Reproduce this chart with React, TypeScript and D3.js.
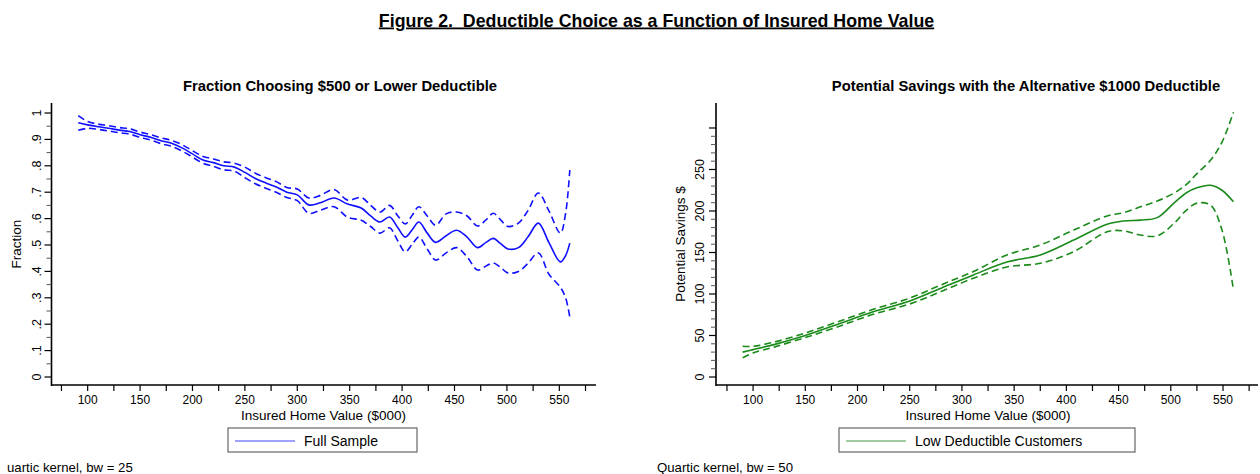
import * as d3 from "d3";

const FONT = "'Liberation Sans', Arial, sans-serif";

// x values (insured home value, $000) for the fraction panel
const fracX = [91, 100, 110, 120, 130, 140, 150, 160, 170, 180, 190, 200, 210, 220, 230, 240, 250, 260, 270, 280, 290, 300, 311, 322, 335, 348, 361, 370, 379, 388, 396, 403, 410, 416, 424, 432, 442, 452, 462, 472, 480, 487, 494, 501, 511, 520, 530, 540, 551, 556, 560];
const fracFit = [0.963, 0.955, 0.948, 0.942, 0.935, 0.93, 0.918, 0.908, 0.895, 0.885, 0.868, 0.845, 0.822, 0.812, 0.8, 0.795, 0.775, 0.752, 0.735, 0.72, 0.7, 0.69, 0.652, 0.66, 0.678, 0.655, 0.64, 0.61, 0.587, 0.606, 0.565, 0.53, 0.56, 0.587, 0.545, 0.51, 0.535, 0.556, 0.53, 0.49, 0.51, 0.525, 0.505, 0.485, 0.49, 0.53, 0.583, 0.51, 0.436, 0.46, 0.507];
const fracHi = [0.99, 0.968, 0.958, 0.952, 0.945, 0.94, 0.928, 0.918, 0.906, 0.896, 0.88, 0.857, 0.835, 0.826, 0.815, 0.81, 0.795, 0.772, 0.755, 0.74, 0.718, 0.712, 0.678, 0.688, 0.71, 0.67, 0.68, 0.65, 0.625, 0.65, 0.61, 0.58, 0.615, 0.645, 0.61, 0.575, 0.618, 0.625, 0.61, 0.572, 0.595, 0.62, 0.595, 0.57, 0.583, 0.63, 0.697, 0.63, 0.545, 0.62, 0.784];
const fracLo = [0.935, 0.942, 0.938, 0.932, 0.925, 0.92, 0.908, 0.898, 0.884, 0.874, 0.856, 0.833, 0.81, 0.798, 0.785, 0.78, 0.755, 0.732, 0.715, 0.7, 0.68, 0.668, 0.62, 0.632, 0.645, 0.605, 0.594, 0.57, 0.545, 0.565, 0.515, 0.474, 0.505, 0.53, 0.485, 0.443, 0.47, 0.49, 0.455, 0.405, 0.42, 0.432, 0.415, 0.394, 0.4, 0.43, 0.47, 0.39, 0.34, 0.3, 0.227];

// potential savings panel
const saveX = [90, 100, 120, 150, 180, 215, 250, 280, 311, 343, 375, 407, 439, 455, 471, 487, 503, 515, 525, 538, 549, 560];
const saveFit = [30, 33, 39, 50, 63, 78.5, 91.5, 107, 123, 138.5, 147, 165, 184, 188, 189, 192, 209.5, 222, 228, 231, 225, 211];
const saveHi = [37, 37, 42, 53, 66, 81.5, 95, 111, 127, 147, 159, 177, 194, 198, 205, 212, 221.5, 232, 245, 261, 283, 319];
const saveLo = [23, 29, 36, 47.5, 60, 75.5, 88, 103, 119, 132.5, 137, 151, 175, 176, 171, 170, 185, 201, 209.5, 207, 177, 105];

const xTicks = d3.range(75, 576, 25);
const xLabels = d3.range(100, 551, 50);
const fracMajor = d3.range(0, 1.001, 0.1);
const fracMinor = d3.range(0.05, 1, 0.1);
const saveMajor = d3.range(0, 301, 50);
const saveLabels = d3.range(0, 251, 50);
const saveMinor = d3.range(0, 301, 10).filter(v => v % 50 !== 0);

interface PanelProps {
    title: string;
    titleX: number;
    xRange: [number, number];
    xDomain: [number, number];
    yDomain: [number, number];
    yMajor: number[];
    yLabels: number[];
    yMinor: number[];
    fmt: (v: number) => string;
    yTitle: string;
    yTitleX: number;
    yLabelX: number;
    xs: number[];
    fit: number[];
    hi: number[];
    lo: number[];
    color: string;
    legendColor: string;
    legend: string;
    legendBox: [number, number];
}

const Panel = (p: PanelProps) => {
    const x = d3.scaleLinear().domain(p.xDomain).range(p.xRange);
    const y = d3.scaleLinear().domain(p.yDomain).range([385, 103]);
    const line = (vals: number[]) =>
        d3.line<number>()
            .x((_, i) => x(p.xs[i]))
            .y(d => y(d))
            .curve(d3.curveCatmullRom)(vals) || "";
    const x0 = p.xRange[0];
    const [bx0, bx1] = p.legendBox;
    return (
        <g fontFamily={FONT}>
            <text x={p.titleX} y={91} textAnchor="middle" fontSize={14.8} fontWeight="bold">{p.title}</text>
            {/* y axis */}
            <line x1={x0} x2={x0} y1={103} y2={386} stroke="#000" strokeWidth={1.6} />
            {p.yMajor.map(v => (
                <line key={"M" + v} x1={x0 - 7} x2={x0} y1={y(v)} y2={y(v)} stroke="#000" strokeWidth={1.2} />
            ))}
            {p.yMinor.map(v => (
                <line key={"m" + v} x1={x0 - 5} x2={x0} y1={y(v)} y2={y(v)} stroke="#555" strokeWidth={1} />
            ))}
            {p.yLabels.map(v => (
                <text key={"l" + v} transform={`translate(${p.yLabelX},${y(v)}) rotate(-90)`} textAnchor="middle"
                      fontSize={12.5}>{p.fmt(v)}</text>
            ))}
            <text transform={`translate(${p.yTitleX},${y((p.yDomain[0] + p.yDomain[1]) / 2)}) rotate(-90)`}
                  textAnchor="middle" fontSize={13.5}>{p.yTitle}</text>
            {/* x axis */}
            <line x1={x0} x2={p.xRange[1]} y1={385} y2={385} stroke="#000" strokeWidth={1.6} />
            {xTicks.map(v => (
                <line key={"x" + v} x1={x(v)} x2={x(v)} y1={385} y2={391} stroke="#000" strokeWidth={1.2} />
            ))}
            {xLabels.map(v => (
                <text key={"xl" + v} x={x(v)} y={404} textAnchor="middle" fontSize={12}>{v}</text>
            ))}
            <text x={(x(100) + x(550)) / 2} y={419.5} textAnchor="middle" fontSize={13.5}>Insured Home Value ($000)</text>
            {/* curves */}
            <path d={line(p.hi)} fill="none" stroke={p.color} strokeWidth={1.6} strokeDasharray="7,4" />
            <path d={line(p.lo)} fill="none" stroke={p.color} strokeWidth={1.6} strokeDasharray="7,4" />
            <path d={line(p.fit)} fill="none" stroke={p.color} strokeWidth={1.6} />
            {/* legend */}
            <rect x={bx0} y={428} width={bx1 - bx0} height={24} fill="#fff" stroke="#666" strokeWidth={1.2} />
            <line x1={bx0 + 7} x2={bx0 + 67} y1={441} y2={441} stroke={p.legendColor} strokeWidth={1.4} />
            <text x={bx0 + 76} y={445.5} fontSize={14}>{p.legend}</text>
        </g>
    );
};

export default function App() {
    return (
        <svg width={1260} height={474} style={{ position: "absolute", left: 0, top: 0, background: "#fff" }}>
            <text x={656.5} y={26.5} textAnchor="middle" fontFamily={FONT} fontSize={17.8} fontWeight="bold"
                  textDecoration="underline" xmlSpace="preserve" style={{ whiteSpace: "pre" }}>
                {"Figure 2.  Deductible Choice as a Function of Insured Home Value"}
            </text>
            <Panel title="Fraction Choosing $500 or Lower Deductible" titleX={340}
                   xRange={[51.5, 596]} xDomain={[65.5, 585]} yDomain={[-0.0303, 1.0379]}
                   yMajor={fracMajor} yLabels={fracMajor} yMinor={fracMinor}
                   fmt={v => (v >= 1 ? "1" : v === 0 ? "0" : d3.format(".1f")(v).replace(/^0/, ""))}
                   yTitle="Fraction" yTitleX={21} yLabelX={41}
                   xs={fracX} fit={fracFit} hi={fracHi} lo={fracLo} color="#1010ff" legendColor="#8080ff"
                   legend="Full Sample" legendBox={[228, 417]} />
            <Panel title="Potential Savings with the Alternative $1000 Deductible" titleX={1026}
                   xRange={[716, 1258]} xDomain={[64.5, 583.5]} yDomain={[-9.64, 330.1]}
                   yMajor={saveMajor} yLabels={saveLabels} yMinor={saveMinor}
                   fmt={v => String(v)}
                   yTitle="Potential Savings $" yTitleX={685} yLabelX={704}
                   xs={saveX} fit={saveFit} hi={saveHi} lo={saveLo} color="#1a8a1a" legendColor="#80b880"
                   legend="Low Deductible Customers" legendBox={[839, 1135]} />
            <text x={7} y={472} fontFamily={FONT} fontSize={13.2}>uartic kernel, bw = 25</text>
            <text x={657} y={472} fontFamily={FONT} fontSize={13.2}>Quartic kernel, bw = 50</text>
        </svg>
    );
}
